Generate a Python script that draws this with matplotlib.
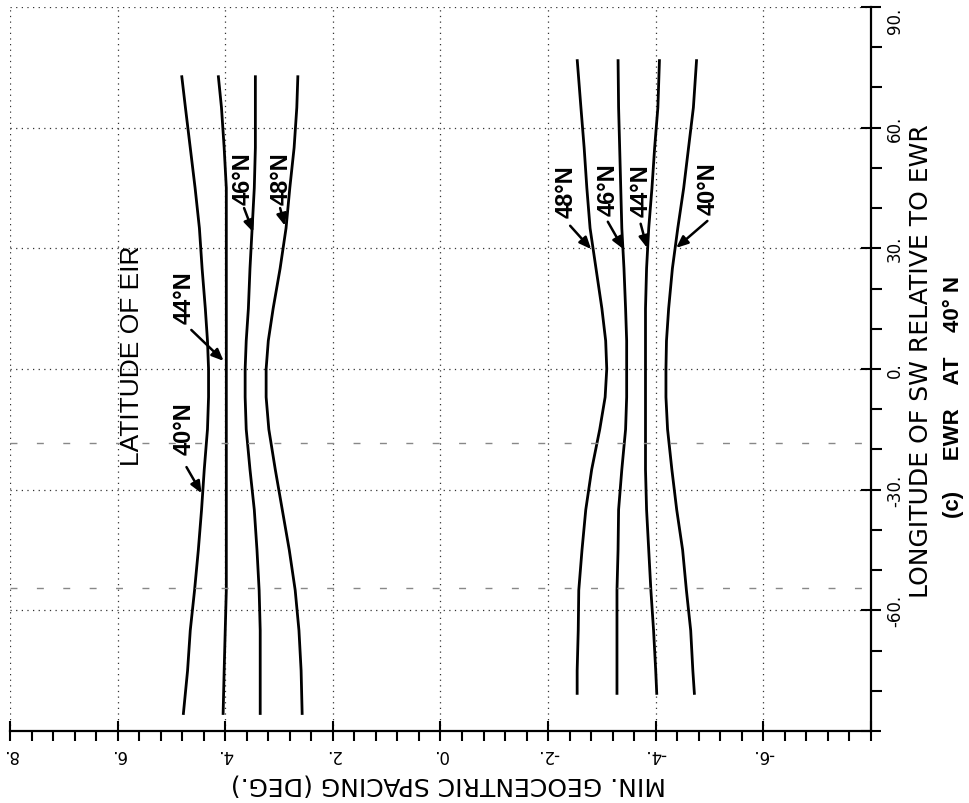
import matplotlib
matplotlib.use("Agg")
import matplotlib.pyplot as plt
from matplotlib.ticker import MultipleLocator, FixedLocator

# longitude of SW relative to EWR (deg) at which the curves were read
LON_POS = [73, 65, 55, 45, 35, 25, 15, 7, 0, -7, -15, -25, -35, -45, -55, -65, -75, -86]
LON_NEG = [77, 65, 55, 45, 35, 25, 15, 7, 0, -7, -15, -25, -35, -45, -55, -65, -75, -81]

# minimum geocentric spacing (deg), positive branch
POS_40N = [4.81, 4.74, 4.65, 4.56, 4.48, 4.43, 4.37, 4.33, 4.31,
           4.31, 4.33, 4.39, 4.44, 4.50, 4.57, 4.65, 4.70, 4.78]
POS_44N = [4.13, 4.07, 4.02, 3.98, 3.98, 3.98, 3.98, 3.98, 3.98,
           3.98, 3.98, 3.98, 3.98, 3.98, 3.98, 4.00, 4.02, 4.04]
POS_46N = [3.44, 3.44, 3.44, 3.46, 3.50, 3.54, 3.57, 3.61, 3.63,
           3.63, 3.61, 3.54, 3.46, 3.41, 3.37, 3.35, 3.35, 3.35]
POS_48N = [2.65, 2.67, 2.72, 2.80, 2.87, 2.98, 3.11, 3.20, 3.24,
           3.24, 3.19, 3.07, 2.94, 2.81, 2.70, 2.63, 2.59, 2.57]

# negative branch
NEG_48N = [-2.54, -2.61, -2.67, -2.72, -2.78, -2.89, -3.00, -3.07, -3.09,
           -3.06, -2.96, -2.81, -2.70, -2.63, -2.57, -2.56, -2.54, -2.54]
NEG_46N = [-3.30, -3.31, -3.33, -3.35, -3.37, -3.41, -3.44, -3.46, -3.46,
           -3.46, -3.44, -3.37, -3.31, -3.30, -3.28, -3.28, -3.28, -3.28]
NEG_44N = [-4.07, -4.04, -3.98, -3.93, -3.87, -3.83, -3.81, -3.81, -3.81,
           -3.81, -3.81, -3.81, -3.83, -3.87, -3.91, -3.96, -4.00, -4.02]
NEG_40N = [-4.76, -4.70, -4.61, -4.52, -4.41, -4.31, -4.24, -4.20, -4.19,
           -4.19, -4.22, -4.30, -4.39, -4.50, -4.57, -4.65, -4.69, -4.72]

SPACING_TICKS = [8, 6, 4, 2, 0, -2, -4, -6]
LON_TICKS = [-60, -30, 0, 30, 60, 90]

# faint dashed lines that show through the scanned sheet
REF_LON = [-18.5, -54.5]

# curve labels: (text, label spacing, label lon, arrow tail, arrow tip)
LABELS = [
    ("44°N", 4.76, 17.9, (4.63, 9.7), (4.03, 2.0)),
    ("40°N", 4.76, -14.7, (4.72, -24.4), (4.44, -30.9)),
    ("46°N", 3.67, 47.5, (3.65, 40.0), (3.48, 34.0)),
    ("48°N", 2.96, 47.5, (2.98, 40.0), (2.89, 35.6)),
    ("48°N", -2.33, 44.3, (-2.41, 35.6), (-2.80, 29.8)),
    ("46°N", -3.11, 44.8, (-3.11, 36.6), (-3.40, 29.8)),
    ("44°N", -3.72, 44.6, (-3.72, 36.1), (-3.84, 30.1)),
    ("40°N", -4.98, 45.1, (-4.96, 36.8), (-4.38, 30.1)),
]

fig = plt.figure(figsize=(9.7, 8.04), dpi=100)
ax = fig.add_axes([0.0103, 0.0896, 0.8876, 0.9005])

for series in (POS_40N, POS_44N, POS_46N, POS_48N):
    ax.plot(series, LON_POS, color="black", lw=2.0, solid_capstyle="butt")
for series in (NEG_48N, NEG_46N, NEG_44N, NEG_40N):
    ax.plot(series, LON_NEG, color="black", lw=2.0, solid_capstyle="butt")

for lon in REF_LON:
    ax.axhline(lon, color="#888888", lw=1.0, dashes=(5, 14))

ax.set_xlim(8, -8)
ax.set_ylim(-90, 90)

ax.xaxis.set_major_locator(FixedLocator(SPACING_TICKS + [-8]))
ax.xaxis.set_minor_locator(MultipleLocator(0.4))
ax.yaxis.set_major_locator(FixedLocator([-90] + LON_TICKS))
ax.yaxis.set_minor_locator(MultipleLocator(10))
ax.set_xticklabels([f"{v}." for v in SPACING_TICKS] + [""], rotation=180,
                   fontsize=12, family="DejaVu Sans")
ax.set_yticklabels([])

ax.yaxis.tick_right()
ax.tick_params(axis="x", which="major", direction="inout", length=14, width=1.5, pad=3)
ax.tick_params(axis="x", which="minor", direction="out", length=7, width=1.5)
ax.tick_params(axis="y", which="major", direction="inout", length=14, width=1.5)
ax.tick_params(axis="y", which="minor", direction="out", length=8, width=1.5)

for side in ("top", "left"):
    ax.spines[side].set_visible(False)
for side in ("bottom", "right"):
    ax.spines[side].set_linewidth(1.6)

ax.grid(which="major", color="#333333", lw=0.9, linestyle=(0, (1, 3.5)))

ytrans = ax.get_yaxis_transform()
for v in LON_TICKS:
    ax.text(1.028, v, f"{v}.", transform=ytrans, rotation=90,
            ha="center", va="top" if v == 90 else "center",
            fontsize=12, family="DejaVu Sans", clip_on=False)

ax.text(5.74, 3.5, "LATITUDE OF EIR", rotation=90, ha="center", va="center",
        fontsize=19, family="Liberation Sans")

for text, lx, ly, tail, tip in LABELS:
    ax.text(lx, ly, text, rotation=90, ha="center", va="center",
            fontsize=17, family="Liberation Sans", fontweight="bold")
    ax.annotate("", xy=tip, xytext=tail,
                arrowprops=dict(arrowstyle="-|>,head_length=0.7,head_width=0.3",
                                color="black", lw=1.8, shrinkA=0, shrinkB=0))

fig.text(448 / 970, 1 - 785 / 804, "MIN. GEOCENTRIC SPACING (DEG.)", rotation=180,
         ha="center", va="center", fontsize=18, family="DejaVu Sans")
fig.text(921 / 970, 1 - 361 / 804, "LONGITUDE OF SW RELATIVE TO EWR", rotation=90,
         ha="center", va="center", fontsize=18, family="DejaVu Sans")
fig.text(953 / 970, 1 - 397 / 804, "(c)     EWR    AT    40° N", rotation=90,
         ha="center", va="center", fontsize=16, family="Liberation Sans",
         fontweight="bold")

fig.savefig("out.png", dpi=100, facecolor="white")
